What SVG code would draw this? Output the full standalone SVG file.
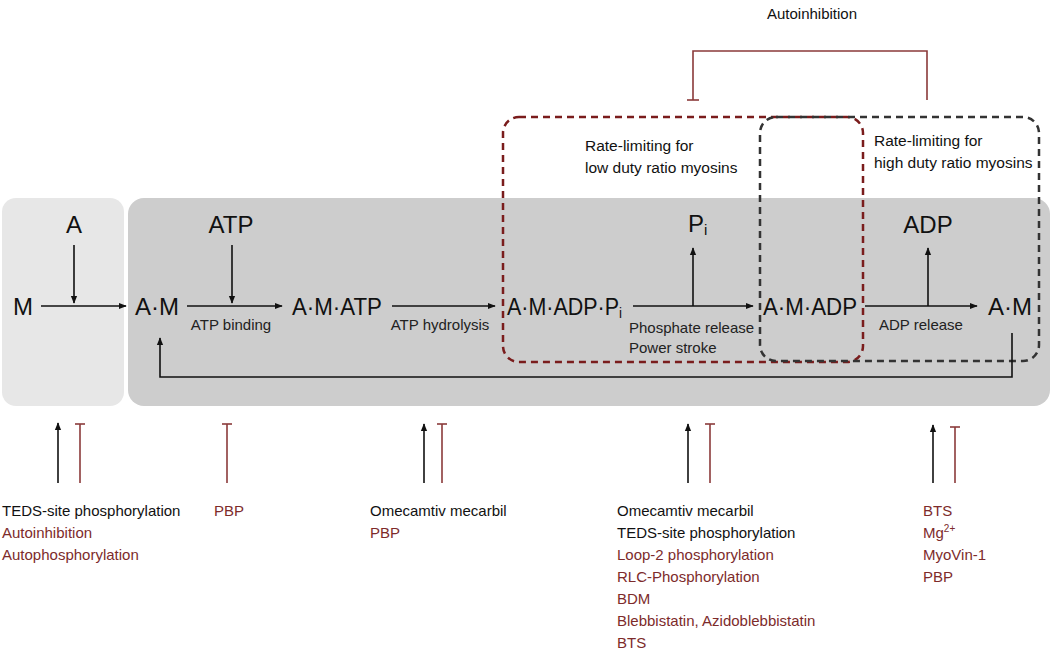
<svg xmlns="http://www.w3.org/2000/svg" width="1050" height="650" viewBox="0 0 1050 650">
<defs>
<marker id="ah" viewBox="0 0 10 10" refX="9" refY="5" markerWidth="8" markerHeight="8" markerUnits="userSpaceOnUse" orient="auto"><path d="M0,1 L10,5 L0,9 z" fill="#111"/></marker>
<style>
.big{font-family:"Liberation Sans",Arial,sans-serif;font-size:24px;fill:#111}
.sm{font-family:"Liberation Sans",Arial,sans-serif;font-size:15px;fill:#222}
.lab{font-family:"Liberation Sans",Arial,sans-serif;font-size:15px;fill:#111}
.rl{font-family:"Liberation Sans",Arial,sans-serif;font-size:15.5px;fill:#111}
.red{fill:#7d2b2b}
.ar{stroke:#111;stroke-width:1.6;fill:none;marker-end:url(#ah)}
.inh{stroke:#8b3a3a;stroke-width:1.6;fill:none}
</style>
</defs>
<rect x="2" y="198" width="122" height="208" rx="14" fill="#e7e7e7"/>
<rect x="128" y="198" width="922" height="208" rx="16" fill="#cdcdcd"/>

<g id="dash-low"><rect x="503" y="117" width="360" height="245" rx="16" fill="none" stroke="#7a1c1c" stroke-width="2.5" stroke-dasharray="7,5"/></g>
<g id="dash-high"><rect x="760" y="117" width="279" height="244" rx="16" fill="none" stroke="#333" stroke-width="2.5" stroke-dasharray="7,5"/></g>

<g id="connectors">
<line class="ar" x1="41" y1="306" x2="126" y2="306"/>
<line class="ar" x1="74" y1="245" x2="74" y2="303"/>
<line class="ar" x1="187" y1="306" x2="282" y2="306"/>
<line class="ar" x1="232" y1="245" x2="232" y2="303"/>
<line class="ar" x1="392" y1="306" x2="495" y2="306"/>
<line class="ar" x1="633" y1="306" x2="753" y2="306"/>
<line class="ar" x1="693" y1="306" x2="693" y2="248"/>
<line class="ar" x1="865" y1="306" x2="977" y2="306"/>
<line class="ar" x1="928" y1="306" x2="928" y2="248"/>
<polyline class="ar" points="1012,333 1012,377 160,377 160,338"/>
<polyline class="inh" points="693,100 693,51 927,51 927,100"/>
<line class="inh" x1="687" y1="100" x2="699" y2="100"/>
<line class="ar" x1="58" y1="483" x2="58" y2="423"/>
<line class="inh" x1="80" y1="483" x2="80" y2="424"/><line class="inh" x1="75" y1="424" x2="85" y2="424"/>
<line class="inh" x1="227" y1="483" x2="227" y2="424"/><line class="inh" x1="222" y1="424" x2="232" y2="424"/>
<line class="ar" x1="424" y1="483" x2="424" y2="424"/>
<line class="inh" x1="442" y1="483" x2="442" y2="424"/><line class="inh" x1="437" y1="424" x2="447" y2="424"/>
<line class="ar" x1="688" y1="483" x2="688" y2="424"/>
<line class="inh" x1="710" y1="483" x2="710" y2="424"/><line class="inh" x1="705" y1="424" x2="715" y2="424"/>
<line class="ar" x1="933" y1="483" x2="933" y2="425"/>
<line class="inh" x1="955" y1="483" x2="955" y2="427"/><line class="inh" x1="950" y1="427" x2="960" y2="427"/>
</g>

<text class="lab" x="812" y="19" text-anchor="middle">Autoinhibition</text>
<text class="rl" x="585" y="151">Rate-limiting for</text>
<text class="rl" x="585" y="173">low duty ratio myosins</text>
<text class="rl" x="874" y="146">Rate-limiting for</text>
<text class="rl" x="874" y="168">high duty ratio myosins</text>

<g id="n-M"><text class="big" x="23" y="315" text-anchor="middle">M</text></g>
<g id="n-A"><text class="big" x="74" y="233" text-anchor="middle">A</text></g>
<g id="n-AM1"><text class="big" x="157" y="315" text-anchor="middle">A·M</text></g>
<g id="n-ATP"><text class="big" x="231" y="233" text-anchor="middle">ATP</text></g>
<g id="n-AMATP"><text class="big" x="292" y="315" textLength="90" lengthAdjust="spacingAndGlyphs">A·M·ATP</text></g>
<g id="n-AMADPPi"><text class="big" x="507" y="315" textLength="115" lengthAdjust="spacingAndGlyphs">A·M·ADP·P<tspan font-size="15" dy="3">i</tspan></text></g>
<g id="n-Pi"><text class="big" x="688" y="232">P<tspan font-size="15" dy="3">i</tspan></text></g>
<g id="n-AMADP"><text class="big" x="763" y="315" textLength="94" lengthAdjust="spacingAndGlyphs">A·M·ADP</text></g>
<g id="n-ADP"><text class="big" x="928" y="233" text-anchor="middle">ADP</text></g>
<g id="n-AM2"><text class="big" x="1010" y="315" text-anchor="middle">A·M</text></g>

<text class="sm" x="231" y="330" text-anchor="middle">ATP binding</text>
<text class="sm" x="440" y="330" text-anchor="middle">ATP hydrolysis</text>
<text class="sm" x="629" y="333">Phosphate release</text>
<text class="sm" x="629" y="353">Power stroke</text>
<text class="sm" x="921" y="330" text-anchor="middle">ADP release</text>

<g id="eff1">
<text class="lab" x="2" y="516">TEDS-site phosphorylation</text>
<text class="lab red" x="2" y="538">Autoinhibition</text>
<text class="lab red" x="2" y="560">Autophosphorylation</text>
</g>
<g id="eff2"><text class="lab red" x="214" y="516">PBP</text></g>
<g id="eff3">
<text class="lab" x="370" y="516">Omecamtiv mecarbil</text>
<text class="lab red" x="370" y="538">PBP</text>
</g>
<g id="eff4">
<text class="lab" x="617" y="516">Omecamtiv mecarbil</text>
<text class="lab" x="617" y="538">TEDS-site phosphorylation</text>
<text class="lab red" x="617" y="560">Loop-2 phosphorylation</text>
<text class="lab red" x="617" y="582">RLC-Phosphorylation</text>
<text class="lab red" x="617" y="604">BDM</text>
<text class="lab red" x="617" y="626">Blebbistatin, Azidoblebbistatin</text>
<text class="lab red" x="617" y="648">BTS</text>
</g>
<g id="eff5">
<text class="lab red" x="923" y="516">BTS</text>
<text class="lab red" x="923" y="538">Mg<tspan font-size="10" dy="-6">2+</tspan></text>
<text class="lab red" x="923" y="560">MyoVin-1</text>
<text class="lab red" x="923" y="582">PBP</text>
</g>
</svg>
